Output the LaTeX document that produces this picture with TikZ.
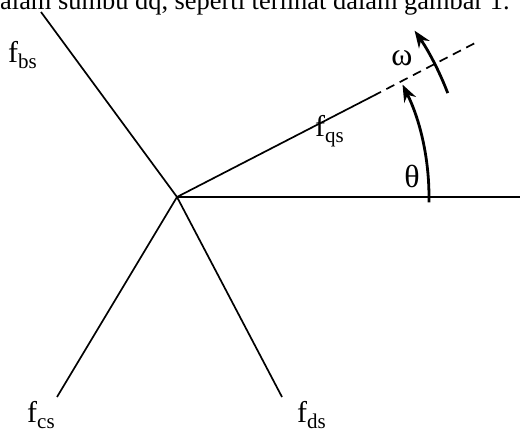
\documentclass[tikz,border=0pt]{standalone}
\usepackage{fontspec}
\setmainfont{Liberation Serif}
\usetikzlibrary{arrows.meta}
\newcommand{\lbl}[2]{#1\raisebox{-6pt}{\fontsize{21}{21}\selectfont #2}}
\begin{document}
\begin{tikzpicture}[x=1pt,y=1pt,
  axis/.style={line width=1.7pt},
  rotarrow/.style={line width=2.8pt,-{Stealth[length=17pt,width=13pt]}},
  lab/.style={inner sep=0pt,font=\fontsize{30}{30}\selectfont},
  greek/.style={inner sep=0pt,font=\fontsize{32}{32}\selectfont}]
\useasboundingbox (0,0) rectangle (520,437);
\clip (0,0) rectangle (520,437);
\node[inner sep=0pt,anchor=base west,font=\fontsize{26.4}{26.4}\selectfont] (top) at (0,427) {alam sumbu dq, seperti terlihat dalam gambar 1.};
\coordinate (O) at (177,240);
\coordinate (B) at (41,425);
\coordinate (R) at (520,240);
\coordinate (S) at (373,341);
\coordinate (Q) at (477,395);
\coordinate (C) at (57,40);
\coordinate (D) at (282,40);
\draw[axis] (O) -- (B);
\draw[axis] (O) -- (R);
\draw[axis] (O) -- (C);
\draw[axis] (O) -- (D);
\draw[axis] (O) -- (S);
\draw[axis,dash pattern=on 9pt off 6pt] (S) -- (Q);
\draw[rotarrow] (O) ++(-1.2:252) arc[start angle=-1.2,end angle=26.5,radius=252];
\draw[rotarrow] (O) ++(21:290) arc[start angle=21,end angle=35,radius=290];
\node[lab,anchor=base west] (fbs) at (8,374) {\lbl{f}{bs}};
\node[lab,anchor=base west] (fqs) at (315,300) {\lbl{f}{qs}};
\node[lab,anchor=base west] (fcs) at (27,15) {\lbl{f}{cs}};
\node[lab,anchor=base west] (fds) at (297,15) {\lbl{f}{ds}};
\node[greek] (theta) at (412,261) {θ};
\node[greek] (omega) at (402,379) {ω};
\end{tikzpicture}
\end{document}
